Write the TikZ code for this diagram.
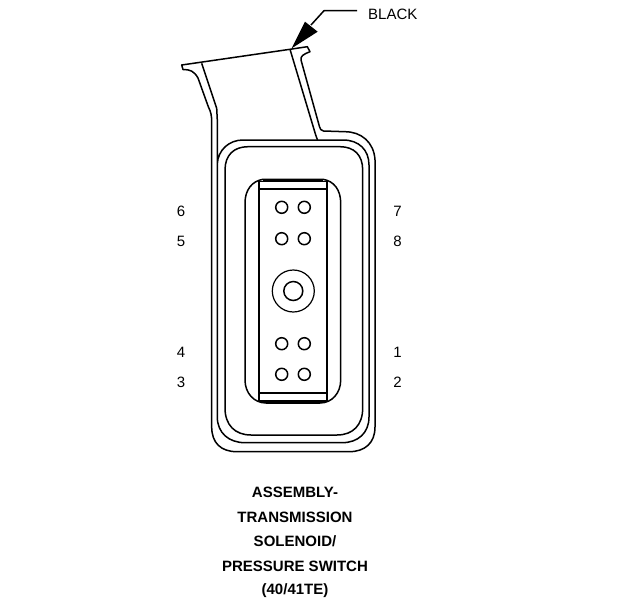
\documentclass[tikz,border=0pt]{standalone}
\usepackage{fontspec}
\setmainfont{Liberation Sans}
\tikzset{
  outline/.style={black,line width=1.5pt,line join=round},
  pinhole/.style={circle,draw=black,line width=1.5pt,minimum size=12pt,inner sep=0pt,fill=white},
  numlabel/.style={font=\fontsize{15}{17}\selectfont,inner sep=0pt,anchor=center},
  caption/.style={font=\fontsize{15}{17}\selectfont\bfseries,inner sep=0pt,anchor=center}
}
\begin{document}
\begin{tikzpicture}[x=1pt,y=-1pt]
\useasboundingbox (0,0) rectangle (624,600);
% outer shell with neck
\draw[outline] (290,49.3) -- (181.7,65) -- (183,69.5) .. controls (190,69.5) and (194,71) .. (198,78)
  -- (208.3,106.7) .. controls (211,112) and (211.7,116) .. (211.7,122)
  -- (211.7,427) .. controls (211.7,443) and (221,451.7) .. (237,451.7)
  -- (349,451.7) .. controls (365,451.7) and (375,443) .. (375,427)
  -- (375,160) .. controls (374,142) and (361,131.7) .. (345,131.7)
  -- (323.5,131) .. controls (321,130.5) and (320,129) .. (319.5,126.7)
  -- (301,60) .. controls (300.5,56) and (303,54.5) .. (310,51.7)
  -- (307.3,46.7) -- cycle;
% second contour
\draw[outline] (201.7,63.3) -- (216.7,108.3) -- (217.3,120) -- (217.3,417)
  .. controls (217.3,433) and (229,442.7) .. (245,442.7)
  -- (342,442.7) .. controls (358,442.7) and (369,433) .. (369,417) -- (369,165)
  .. controls (369,150) and (359,140) .. (343,140) -- (243,140)
  .. controls (229,140) and (218,150) .. (217.3,164);
\draw[outline] (290,49.3) -- (315.7,135) -- (317.5,140);
% third contour
\draw[outline] (225,170) .. controls (225,155) and (234,146.7) .. (248,146.7) -- (340,146.7)
  .. controls (354,146.7) and (362.7,155) .. (362.7,170) -- (362.7,408)
  .. controls (362.7,425) and (353,435) .. (337,435) -- (251,435)
  .. controls (235,435) and (225,425) .. (225,408) -- cycle;
% inner rounded body
\draw[outline] (245,203) .. controls (245,190) and (252,181) .. (263,179.3) -- (323,179.3)
  .. controls (334,181) and (340.7,190) .. (340.7,203) -- (340.7,380)
  .. controls (340.7,393) and (332,403) .. (320,403) -- (266,403)
  .. controls (254,403) and (245,393) .. (245,380) -- cycle;
% inner plate
\fill[white] (259.3,181.5) rectangle (326.7,401);
\draw[black,line width=1.8pt] (259.3,181.5) rectangle (326.7,401);
\draw[black,line width=2.2pt] (259.3,189.3) -- (326.7,189.3);
\draw[black,line width=2.2pt] (259.3,392.7) -- (326.7,392.7);
\draw[black,line width=2pt] (263,179.6) -- (323,179.6);
\draw[black,line width=2pt] (266,403) -- (320,403);
% pins
\node[pinhole] (p6) at (281.7,207.3) {};
\node[pinhole] (p7) at (304.3,207.3) {};
\node[pinhole] (p5) at (281.7,238.7) {};
\node[pinhole] (p8) at (304.3,238.7) {};
\node[pinhole] (p4) at (281.7,343.7) {};
\node[pinhole] (p1) at (304.3,343.7) {};
\node[pinhole] (p3) at (281.7,374.3) {};
\node[pinhole] (p2) at (304.3,374.3) {};
\node[circle,draw=black,line width=1.2pt,minimum size=42pt,inner sep=0pt] (hub) at (293.3,291) {};
\node[circle,draw=black,line width=1.5pt,minimum size=19pt,inner sep=0pt] (bore) at (293.3,291) {};
% pin numbers
\node[numlabel] (n6) at (181,211) {6};
\node[numlabel] (n5) at (181,241) {5};
\node[numlabel] (n4) at (181,352) {4};
\node[numlabel] (n3) at (181,382) {3};
\node[numlabel] (n7) at (397.5,211) {7};
\node[numlabel] (n8) at (397.5,241) {8};
\node[numlabel] (n1) at (397.5,352) {1};
\node[numlabel] (n2) at (397.5,382) {2};
% leader
\node[numlabel,anchor=west] (black) at (368,14) {BLACK};
\coordinate (lstart) at (357,10.7);
\coordinate (lbend) at (324,10.7);
\coordinate (lfoot) at (311,25);
\coordinate (tip) at (291.7,48.3);
\coordinate (b1) at (305,21.7);
\coordinate (b2) at (317.7,31.7);
\draw[outline] (lstart) -- (lbend) -- (lfoot);
\fill[black] (tip) -- (b1) -- (b2) -- cycle;
% caption
\node[caption] (c1) at (295,492.5) {ASSEMBLY-};
\node[caption] (c2) at (295,517) {TRANSMISSION};
\node[caption] (c3) at (295,541.5) {SOLENOID/};
\node[caption] (c4) at (295,566) {PRESSURE SWITCH};
\node[caption] (c5) at (295,590.5) {(40/41TE)};
\end{tikzpicture}
\end{document}
